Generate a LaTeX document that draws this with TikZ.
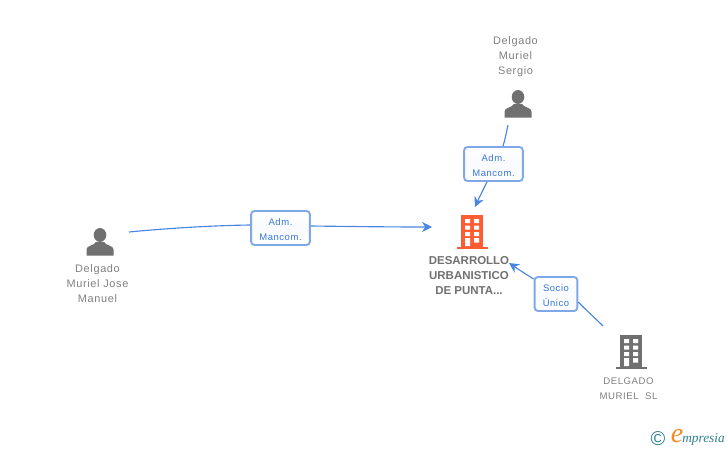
\documentclass[tikz,border=0pt]{standalone}
\usepackage{fontspec}
\setmainfont{Liberation Sans}
\newfontfamily\lblfont[LetterSpace=6]{Liberation Sans}
\newfontfamily\logofont{Liberation Serif}
\usetikzlibrary{arrows.meta}
\definecolor{edgeblue}{HTML}{4A86E0}
\definecolor{boxblue}{HTML}{7EA8E8}
\definecolor{txtblue}{HTML}{3A78D8}
\definecolor{txtgrey}{HTML}{808080}
\definecolor{icongrey}{HTML}{707070}
\definecolor{orangeicon}{HTML}{FF5C33}
\definecolor{logoteal}{HTML}{2F7F8C}
\definecolor{logoorange}{HTML}{F08A24}
\tikzset{
  x=0.75pt,y=-0.75pt,
  edge/.style={draw=edgeblue,line width=0.85pt},
  arrowedge/.style={edge,-{Stealth[length=7.5pt,width=7.5pt]}},
  rolebox/.style={draw=boxblue,line width=1.4pt,rounded corners=2.5pt,top color=white,bottom color=white,middle color=white!95!boxblue,
    text=txtblue,font=\lblfont\fontsize{7.1}{11.2}\selectfont,align=center,inner sep=0pt},
  namelabel/.style={text=txtgrey,font=\lblfont\fontsize{8.2}{11.25}\selectfont,align=center,inner sep=0pt},
  boldlabel/.style={text=icongrey,font=\fontsize{8.6}{11.25}\selectfont\bfseries,align=center,inner sep=0pt},
  person/.pic={
    \fill[icongrey] (0,-7) circle[x radius=6.3,y radius=7];
    \fill[icongrey] (-13.5,13.5) -- (-13.5,7.5) .. controls (-13.5,3.5) and (-6.5,4) .. (-4,0) -- (4,0) .. controls (6.5,4) and (13.5,3.5) .. (13.5,7.5) -- (13.5,13.5) -- cycle;
  },
  pics/tower/.style={code={
    \fill[#1] (-11,-16) rectangle (11,16);
    \fill[#1] (-15.5,16) rectangle (16,18);
    \fill[white] (-7,-12) rectangle (-2,-8) (2,-12) rectangle (7,-8)
      (-7,-5.5) rectangle (-2,-1.5) (2,-5.5) rectangle (7,-1.5)
      (-7,1) rectangle (-2,5) (2,1) rectangle (7,5)
      (-7,7) rectangle (-2,15) (2,7) rectangle (7,11.5);
  }}
}
\begin{document}
\begin{tikzpicture}
\useasboundingbox (0,0) rectangle (728,450);
% icons
\pic at (518,104) {person};
\pic at (100,242) {person};
\pic at (472,231) {tower=orangeicon};
\pic at (631,351) {tower=icongrey};
% labels
\node[namelabel] (sergio) at (515.5,57) {Delgado\\Muriel\\Sergio};
\node[namelabel] (jose) at (97.5,284) {Delgado\\Muriel Jose\\Manuel};
\node[boldlabel] (main) at (469,276) {DESARROLLO\\URBANISTICO\\DE PUNTA...};
\node[namelabel,font=\lblfont\fontsize{7.2}{11.25}\selectfont] (sl) at (628.5,389) {DELGADO\\MURIEL\ \ SL};
% role boxes
\node[rolebox,minimum width=44pt,minimum height=25.5pt] (b1) at (280.5,228) {\rule{0pt}{8pt}Adm.\\Mancom.};
\node[rolebox,minimum width=44pt,minimum height=25.5pt] (b2) at (493.5,164) {\rule{0pt}{8pt}Adm.\\Mancom.};
\node[rolebox,minimum width=32pt,minimum height=25.5pt] (b3) at (556,294) {\rule{0pt}{8pt}Socio\\Único};
% connector ends
\coordinate (jstart) at (129,232);
\coordinate (jend) at (432,227);
\coordinate (sstart) at (508,125);
\coordinate (send) at (475,207);
\coordinate (dstart) at (603,326);
\coordinate (dend) at (509,263);
\coordinate (b1in) at (b1.west |- 0,225);
\coordinate (b1out) at (b1.east |- 0,226);
\coordinate (b2in) at (503,0 |- b2.north);
\coordinate (b2out) at (487,0 |- b2.south);
\coordinate (b3in) at (b3.east |- 0,302);
\coordinate (b3out) at (b3.west |- 0,279);
\draw[edge] (jstart) .. controls (170,228) and (215,225.5) .. (b1in);
\draw[arrowedge] (b1out) .. controls (350,226.5) and (390,227) .. (jend);
\draw[edge] (sstart) .. controls (506,134) and (505,140) .. (b2in);
\draw[arrowedge] (b2out) .. controls (483,190) and (479,198) .. (send);
\draw[edge] (dstart) .. controls (597,320) and (586,310) .. (b3in);
\draw[arrowedge] (b3out) .. controls (527,275) and (518,269) .. (dend);
% logo
\node[inner sep=0pt,text=logoteal,font=\fontsize{15}{15}\selectfont] (copy) at (658,439) {©};
\node[inner sep=0pt,text=logoorange,font=\logofont\itshape\fontsize{21}{21}\selectfont] (loge) at (677,436) {e};
\node[inner sep=0pt,text=logoteal,anchor=west,font=\logofont\itshape\fontsize{10}{12}\selectfont] (logt) at (682,439.5) {mpresia};
\end{tikzpicture}
\end{document}
